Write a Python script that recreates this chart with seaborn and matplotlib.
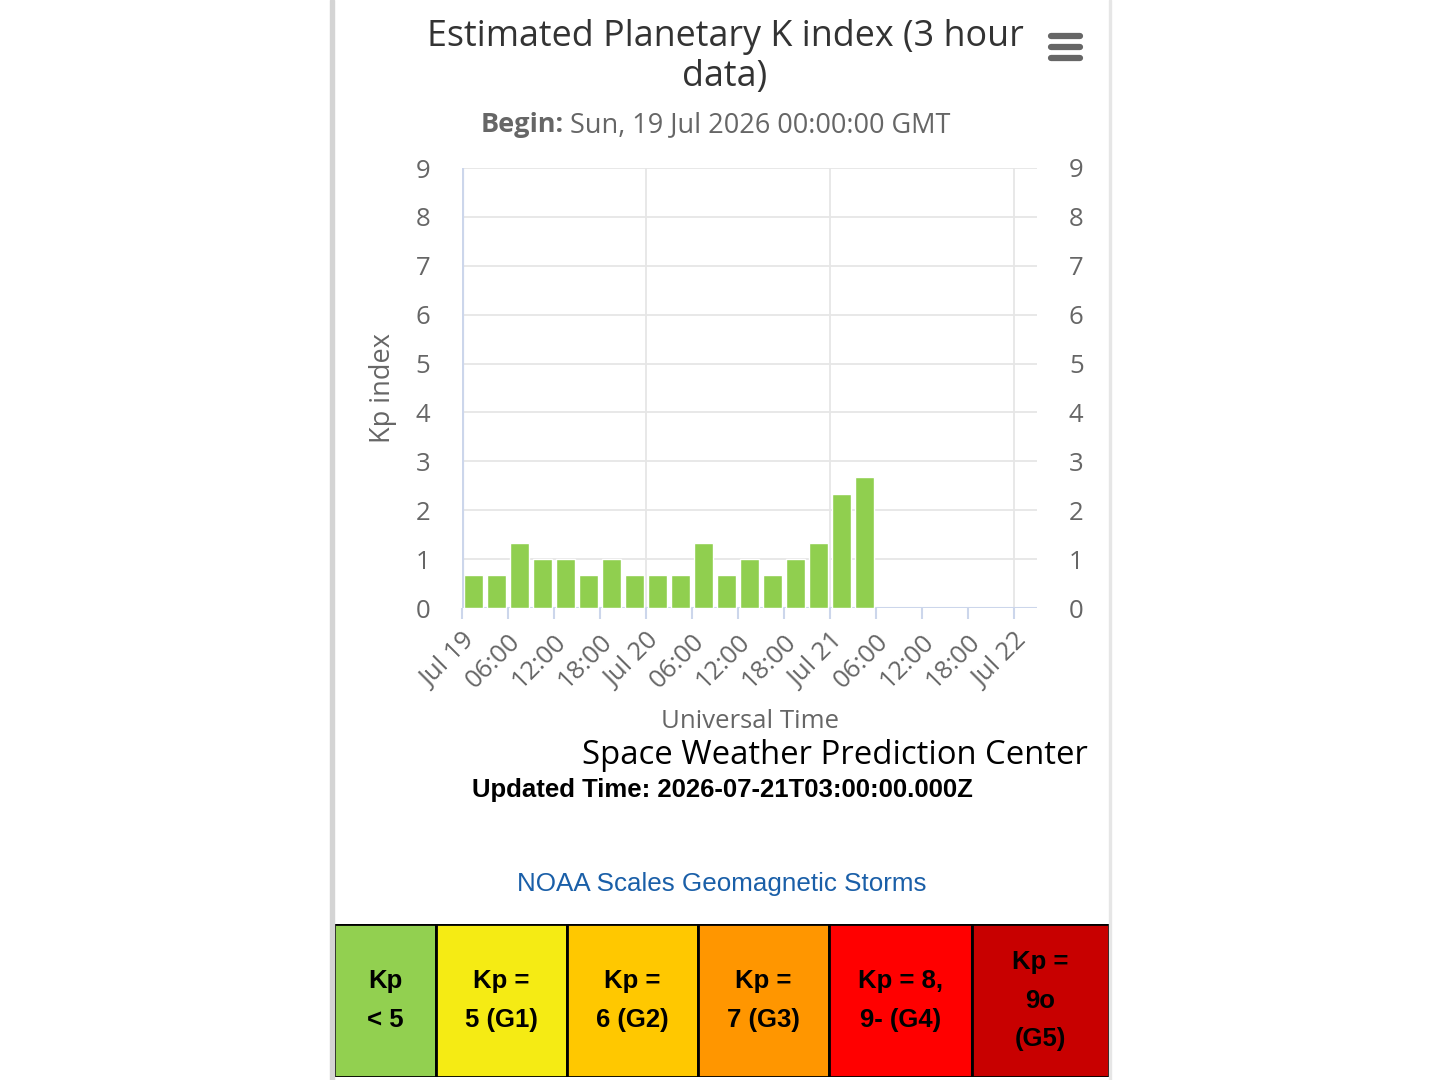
import numpy as np
import pandas as pd
import matplotlib
matplotlib.use("Agg")
import matplotlib.pyplot as plt
import seaborn as sns
from matplotlib.patches import Rectangle
from matplotlib.lines import Line2D

# estimated Kp, one value per 3 hour bin starting Jul 19 00:00 UTC
kp_values = [0.67, 0.67, 1.33, 1.0, 1.0, 0.67, 1.0, 0.67, 0.67,
             0.67, 1.33, 0.67, 1.0, 0.67, 1.0, 1.33, 2.33, 2.67]
bin_starts = pd.date_range("2026-07-19 00:00", periods=len(kp_values), freq="3h")

x_tick_hours = [0, 6, 12, 18, 24, 30, 36, 42, 48, 54, 60, 66, 72]
x_tick_labels = ["Jul 19", "06:00", "12:00", "18:00", "Jul 20", "06:00", "12:00",
                 "18:00", "Jul 21", "06:00", "12:00", "18:00", "Jul 22"]
day_hours = [0, 24, 48, 72]
y_ticks = [0, 1, 2, 3, 4, 5, 6, 7, 8, 9]

scale_labels = ["Kp\n< 5", "Kp =\n5 (G1)", "Kp =\n6 (G2)", "Kp =\n7 (G3)",
                "Kp = 8,\n9- (G4)", "Kp =\n9o\n(G5)"]
scale_colors = ["#92d050", "#f5eb14", "#ffc800", "#ff9600", "#ff0000", "#c80000"]
scale_widths = [102, 131, 131, 131, 143, 137]  # cell widths in px

W, H = 1440, 1080
def fx(px): return px / W
def fy(py): return 1 - py / H

sns.set_theme(style="white")
plt.rcParams["font.family"] = ["Open Sans", "DejaVu Sans"]

fig = plt.figure(figsize=(14.4, 10.8), dpi=100)

# page frame
fig.patches.append(Rectangle((fx(330), 0), fx(4), 1, transform=fig.transFigure,
                             color="#d4d4d4", zorder=0))
fig.patches.append(Rectangle((fx(1109), 0), fx(1.5), 1, transform=fig.transFigure,
                             color="#e6e6e6", zorder=0))

# data frame
start = bin_starts[0]
df = pd.DataFrame({
    "hour": (bin_starts - start) / pd.Timedelta(hours=1) + 1.5,
    "kp": kp_values,
})

ax = fig.add_axes([fx(462), fy(608), fx(1037) - fx(462), fy(168) - fy(608)])
sns.barplot(data=df, x="hour", y="kp", native_scale=True, width=0.84,
            color="#90cf4f", saturation=1, edgecolor="white", linewidth=1,
            ax=ax, zorder=3)
ax.set_xlim(0, 75)
ax.set_ylim(0, 9)

# grid
for yv in y_ticks[1:]:
    ax.axhline(yv, color="#e6e6e6", lw=1.3, zorder=1)
for d in day_hours[1:]:
    ax.axvline(d, color="#e6e6e6", lw=1.3, zorder=1)
ax.axvline(day_hours[0], color="#ccd6eb", lw=3, zorder=4)

for s in ax.spines.values():
    s.set_visible(False)
ax.axhline(0, color="#ccd6eb", lw=1.5, zorder=2)

ax.set_xticks(x_tick_hours)
ax.set_xticklabels(x_tick_labels, rotation=45, ha="right", rotation_mode="anchor")
ax.tick_params(axis="x", length=8, width=1.5, color="#ccd6eb", pad=7,
               labelsize=18.5, labelcolor="#666666", bottom=True)
ax.set_yticks(y_ticks)
ax.tick_params(axis="y", length=0, pad=23, labelsize=18.5, labelcolor="#666666")
ax.set_xlabel("")
ax.set_ylabel("Kp index", fontsize=19.5, color="#666666", labelpad=13)

ax2 = ax.twinx()
ax2.set_ylim(0, 9)
ax2.set_yticks(y_ticks)
ax2.tick_params(axis="y", length=0, pad=23, labelsize=18.5, labelcolor="#666666")
for s in ax2.spines.values():
    s.set_visible(False)
ax2.grid(False)

# titles
fig.text(fx(725), fy(57), "Estimated Planetary K index (3 hour\ndata)",
         ha="center", va="center", fontsize=25.8, color="#333333", linespacing=1.17)
fig.text(fx(564), fy(125), "Begin:", ha="right", va="center", fontsize=19.5,
         color="#666666", fontweight="bold")
fig.text(fx(570), fy(125), "Sun, 19 Jul 2026 00:00:00 GMT", ha="left", va="center",
         fontsize=19.5, color="#666666")

# menu icon
for yy in [36, 47, 58]:
    fig.lines.append(Line2D([fx(1051), fx(1080)], [fy(yy), fy(yy)],
                            transform=fig.transFigure, color="#666666",
                            lw=4.5, solid_capstyle="round"))

fig.text(fx(750), fy(722), "Universal Time", ha="center", va="center",
         fontsize=18.5, color="#666666")
fig.text(fx(1088), fy(755), "Space Weather Prediction Center", ha="right",
         va="center", fontsize=23.7, color="#000000")
fig.text(fx(722), fy(790), "Updated Time: 2026-07-21T03:00:00.000Z", ha="center",
         va="center", fontsize=18.5, color="#000000", fontweight="bold",
         family="Liberation Sans")
fig.text(fx(722), fy(884), "NOAA Scales Geomagnetic Storms", ha="center",
         va="center", fontsize=18.7, color="#1a5fa8", family="Liberation Sans")

# NOAA scale table
tab = fig.add_axes([fx(334), fy(1077), fx(1109) - fx(334), fy(924) - fy(1077)])
tab.set_xlim(0, sum(scale_widths))
tab.set_ylim(0, 1)
tab.axis("off")
lefts = np.cumsum([0] + scale_widths[:-1])
tab.bar(lefts, 1, width=scale_widths, align="edge", color=scale_colors,
        edgecolor="black", linewidth=2)
for left, w, lab in zip(lefts, scale_widths, scale_labels):
    tab.text(left + w / 2, 0.5, lab, ha="center", va="center", fontsize=18.5,
             fontweight="bold", color="black", family="Liberation Sans",
             linespacing=1.75)

fig.savefig("out.png", dpi=100)
